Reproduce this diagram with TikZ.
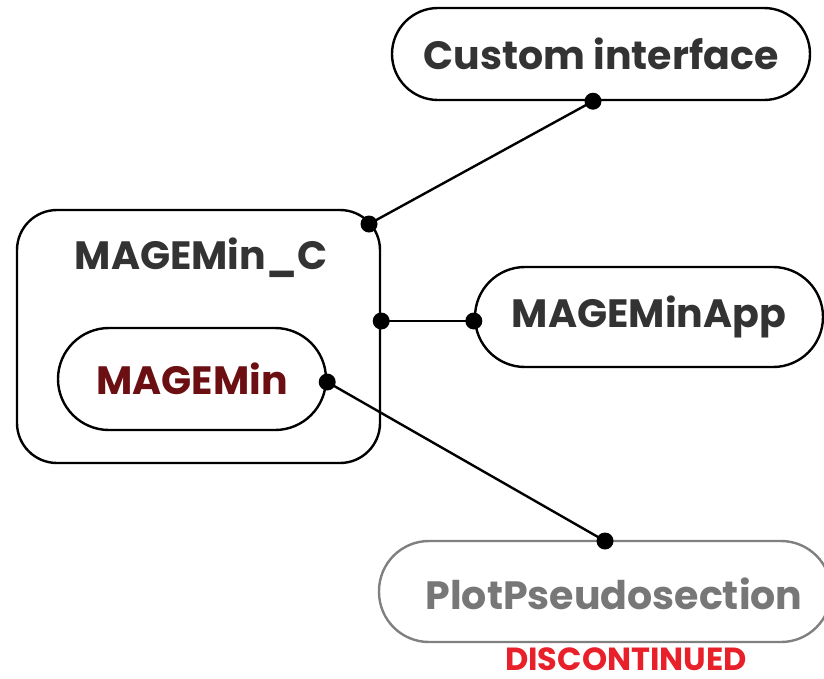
\documentclass[tikz,border=0pt]{standalone}
\usepackage{fontspec}
\setmainfont{Poppins}
\usetikzlibrary{calc}
\definecolor{txt}{HTML}{333333}
\definecolor{mmred}{HTML}{6B0F12}
\definecolor{greyline}{HTML}{808080}
\definecolor{greytxt}{HTML}{777777}
\definecolor{disc}{HTML}{E8202A}
\tikzset{
  bigfont/.style={font=\fontsize{39.5}{42}\selectfont\bfseries},
  box/.style={draw=black, line width=2.4pt, fill=white, text=txt, bigfont, inner sep=0pt},
  dot/.style={circle, fill=black, inner sep=0pt, minimum size=17pt},
  link/.style={line width=2.4pt, draw=black},
}
\begin{document}
\begin{tikzpicture}[x=1pt,y=-1pt]
\useasboundingbox (0,0) rectangle (824,678);
\node[box, minimum width=418pt, minimum height=92pt, rounded corners=46pt] (ci) at (601,54) {Custom interface};
\node[box, minimum width=363pt, minimum height=253pt, rounded corners=40pt] (mc) at (198.5,336.5) {};
\node[bigfont, text=txt, inner sep=0pt] (mclabel) at (201,258) {MAGEMin\_C};
\node[box, minimum width=268pt, minimum height=102pt, rounded corners=51pt, text=mmred] (mm) at (192,379) {MAGEMin};
\node[box, minimum width=348pt, minimum height=100pt, rounded corners=50pt] (app) at (649,317) {MAGEMinApp};
\node[box, draw=greyline, text=greytxt, minimum width=452pt, minimum height=101pt, rounded corners=50pt] (pp) at (605,591.5) {};
\node[bigfont, text=greytxt, inner sep=0pt] (pplabel) at (614,594) {PlotPseudosection};
\node[font=\fontsize{32}{34}\selectfont\bfseries, text=disc, inner sep=0pt] (disc) at (626,659) {DISCONTINUED};
% connection points
\coordinate (c1) at ($(ci.south)+(-8,0)$);
\coordinate (c2) at (369,224);
\coordinate (c3) at ($(mc.east)+(0,-15.5)$);
\coordinate (c4) at ($(app.west)+(0,4)$);
\coordinate (c5) at ($(mm.east)+(0,3)$);
\coordinate (c6) at (605,541);
\draw[link] (c1) -- (c2);
\draw[link] (c3) -- (c4);
\draw[link] (c5) -- (c6);
\foreach \p in {c1,c2,c3,c4,c5,c6} \node[dot] at (\p) {};
\end{tikzpicture}
\end{document}
